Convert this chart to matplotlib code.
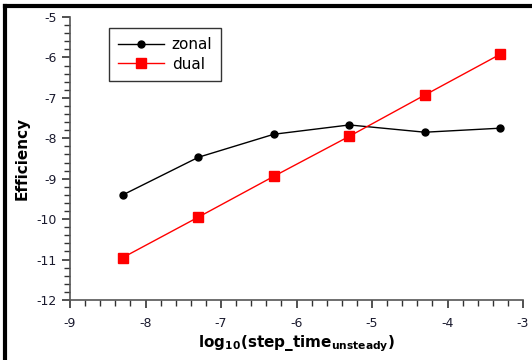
import matplotlib
matplotlib.use("Agg")
import matplotlib.pyplot as plt
from matplotlib.lines import Line2D
from matplotlib.ticker import MultipleLocator

x_vals = [-8.3, -7.3, -6.3, -5.3, -4.3, -3.3]
zonal = [-9.40, -8.47, -7.90, -7.67, -7.85, -7.75]
dual = [-10.95, -9.95, -8.94, -7.95, -6.93, -5.92]
xticks = [-9, -8, -7, -6, -5, -4, -3]
yticks = [-12, -11, -10, -9, -8, -7, -6, -5]

plt.rcParams['font.family'] = ['DejaVu Sans']
fig = plt.figure(figsize=(5.32, 3.6), dpi=100)
ax = fig.add_axes([70/532, 1-300/360, (523-70)/532, (300-17)/360])

ax.plot(x_vals, zonal, color='black', lw=1, marker='o', ms=5, label='zonal')
ax.plot(x_vals, dual, color='#ff0000', lw=1, marker='s', ms=6.5, label='dual')

ax.set_xlim(-9, -3)
ax.set_ylim(-12, -5)
ax.set_xticks(xticks)
ax.set_yticks(yticks)
ax.set_xticklabels([str(t) for t in xticks])
ax.set_yticklabels([str(t) for t in yticks])
ax.xaxis.set_minor_locator(MultipleLocator(0.2))
ax.yaxis.set_minor_locator(MultipleLocator(0.2))
for s in ['top', 'right']:
    ax.spines[s].set_visible(False)
for s in ['left', 'bottom']:
    ax.spines[s].set_color('#555555')
    ax.spines[s].set_linewidth(1.2)
ax.tick_params(which='major', length=6, width=1.2, color='#333333', labelsize=9, labelcolor='#1a1a2e')
ax.tick_params(which='minor', length=4, width=1.0, color='#333333')
ax.tick_params(axis='x', pad=6)

ax.set_xlabel(r'$\mathbf{log_{10}(step\_time_{unsteady})}$', fontsize=11, labelpad=3)
ax.set_ylabel('Efficiency', fontsize=11, fontweight='bold', labelpad=5)

leg = ax.legend(loc='upper left', bbox_to_anchor=((109-70)/453, 1-(28-17)/283), frameon=True,
                fancybox=False, edgecolor='black', fontsize=11, handlelength=3.0,
                borderpad=0.6, labelspacing=0.3, borderaxespad=0, handletextpad=0.5)
leg.get_frame().set_linewidth(1.0)

fig.add_artist(Line2D([5/532, 5/532], [0, 1-6/360], transform=fig.transFigure, color='black', lw=3))
fig.add_artist(Line2D([5/532, 1], [1-6/360, 1-6/360], transform=fig.transFigure, color='black', lw=3))

fig.savefig('out.png', dpi=100)
